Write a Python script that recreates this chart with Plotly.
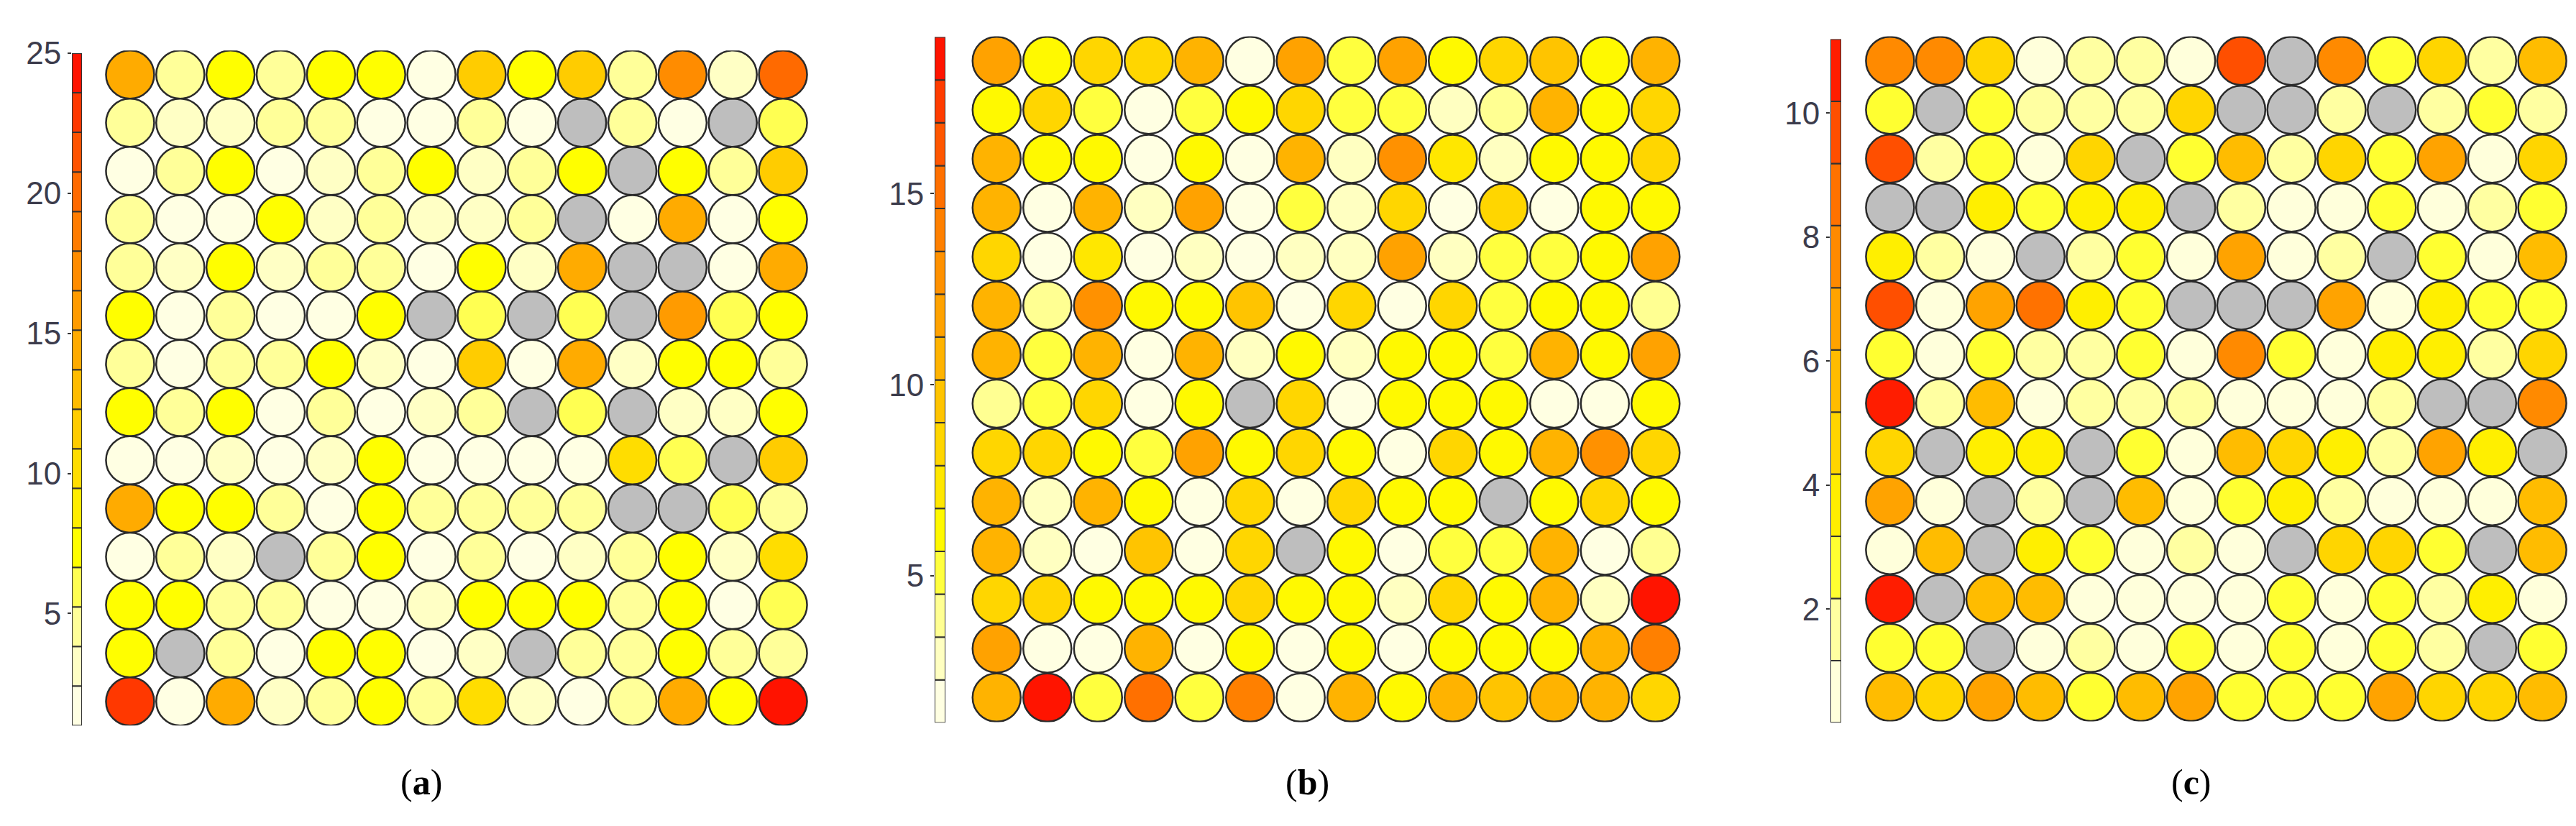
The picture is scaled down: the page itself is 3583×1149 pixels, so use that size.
import plotly.graph_objects as go
from plotly.colors import sample_colorscale

W, H = 3583, 1149

# hits per SOM node (0 = empty node, drawn grey)
hits_a = [
    [15, 4, 7, 4, 7, 7, 2, 12, 7, 12, 5, 17, 3, 20],
    [5, 3, 3, 4, 5, 2, 2, 5, 2, 0, 5, 2, 0, 6],
    [2, 5, 7, 2, 3, 5, 8, 3, 4, 8, 0, 7, 5, 11],
    [5, 2, 2, 8, 3, 5, 3, 3, 5, 0, 2, 14, 2, 7],
    [5, 3, 7, 3, 5, 4, 2, 8, 3, 14, 0, 0, 2, 14],
    [7, 2, 5, 2, 2, 8, 0, 6, 0, 6, 0, 16, 6, 7],
    [5, 2, 5, 4, 7, 3, 2, 11, 2, 14, 3, 7, 7, 5],
    [7, 5, 7, 2, 5, 2, 3, 5, 0, 6, 0, 3, 3, 7],
    [2, 2, 3, 2, 3, 7, 2, 2, 2, 2, 10, 6, 0, 11],
    [14, 7, 7, 4, 2, 8, 4, 4, 4, 4, 0, 0, 6, 4],
    [2, 4, 3, 0, 5, 7, 2, 5, 2, 3, 5, 7, 3, 10],
    [7, 8, 5, 4, 2, 2, 3, 8, 8, 8, 5, 7, 2, 6],
    [7, 0, 5, 2, 7, 7, 2, 3, 0, 5, 5, 7, 5, 4],
    [23, 2, 14, 3, 5, 8, 4, 10, 3, 2, 5, 14, 7, 25],
]

hits_b = [
    [12, 6, 8, 8, 11, 2, 12, 5, 12, 6, 9, 10, 6, 11],
    [6, 8, 5, 2, 5, 6, 8, 5, 5, 3, 4, 11, 6, 8],
    [11, 6, 6, 2, 6, 2, 11, 3, 13, 7, 3, 6, 6, 8],
    [11, 2, 11, 3, 12, 2, 5, 3, 8, 2, 8, 2, 6, 6],
    [8, 2, 7, 2, 3, 2, 3, 3, 12, 3, 5, 5, 6, 12],
    [11, 4, 13, 6, 6, 10, 2, 8, 2, 8, 5, 6, 6, 4],
    [11, 5, 11, 2, 11, 3, 6, 3, 6, 6, 5, 11, 6, 12],
    [4, 5, 8, 2, 6, 0, 9, 2, 6, 6, 6, 2, 2, 6],
    [8, 9, 6, 5, 12, 6, 9, 6, 2, 8, 6, 11, 13, 9],
    [11, 3, 11, 6, 2, 8, 2, 8, 6, 6, 0, 6, 8, 6],
    [11, 3, 2, 10, 2, 8, 0, 6, 2, 5, 5, 11, 2, 4],
    [9, 8, 6, 6, 6, 8, 6, 6, 3, 9, 6, 11, 3, 19],
    [12, 2, 2, 11, 2, 6, 2, 6, 2, 6, 6, 6, 11, 14],
    [11, 19, 5, 15, 5, 14, 2, 11, 6, 11, 10, 11, 11, 9],
]

hits_c = [
    [8, 8, 5, 1, 2, 2, 1, 10, 0, 8, 3, 5, 2, 6],
    [3, 0, 3, 2, 2, 2, 5, 0, 0, 2, 0, 2, 3, 2],
    [10, 2, 3, 1, 5, 0, 3, 6, 2, 5, 3, 7, 1, 5],
    [0, 0, 4, 3, 4, 4, 0, 2, 1, 1, 3, 1, 2, 3],
    [4, 2, 1, 0, 2, 3, 1, 7, 1, 2, 0, 3, 1, 6],
    [10, 1, 7, 9, 4, 3, 0, 0, 0, 7, 1, 4, 3, 3],
    [3, 1, 3, 2, 2, 3, 1, 8, 3, 1, 4, 4, 2, 5],
    [11, 2, 6, 1, 2, 2, 2, 1, 1, 1, 2, 0, 0, 8],
    [5, 0, 4, 4, 0, 3, 1, 6, 5, 4, 2, 7, 4, 0],
    [7, 1, 0, 2, 0, 6, 1, 3, 4, 2, 1, 1, 1, 6],
    [1, 6, 0, 4, 3, 1, 2, 1, 0, 5, 5, 3, 0, 6],
    [11, 0, 6, 6, 1, 1, 1, 1, 3, 1, 3, 2, 4, 1],
    [3, 3, 0, 1, 2, 1, 3, 1, 3, 1, 3, 2, 0, 3],
    [6, 5, 7, 6, 3, 6, 7, 3, 3, 3, 7, 5, 5, 6],
]

panel_labels = ["a", "b", "c"]
cbar_min = [1, 1.15, 0.17]
cbar_max = [25, 19.1, 11.19]
cbar_steps = [17, 16, 11]
cbar_ticks = [[5, 10, 15, 20, 25], [5, 10, 15], [2, 4, 6, 8, 10]]

base = [[0, "rgb(255,255,242)"], [0.09, "rgb(255,255,196)"], [0.17, "rgb(255,255,136)"],
        [0.26, "rgb(255,255,0)"], [0.42, "rgb(255,210,0)"], [0.6, "rgb(255,160,0)"],
        [0.78, "rgb(255,112,0)"], [0.9, "rgb(255,64,0)"], [1, "rgb(255,0,0)"]]


def stepped(n):
    cols = sample_colorscale(base, [(i + 0.5) / n for i in range(n)])
    cs = []
    for i, c in enumerate(cols):
        cs += [[i / n, c], [(i + 1) / n, c]]
    return cs


# pixel boxes (left, right, top, bottom)
grid_box = [(138, 1116, 38, 998), (1343, 2330, 18, 993), (2586, 3563, 18, 992)]
cbar_box = [(92, 106, 42, 998), (1292, 1307, 19, 994), (2538, 2553, 22, 994)]
label_x = [578, 1810, 3040]

fig = go.Figure()
layout = dict(width=W, height=H, margin=dict(l=0, r=0, t=0, b=0),
              paper_bgcolor="white", plot_bgcolor="white", showlegend=False)

edge = dict(color="#2a2a2a", width=2.5)
for k, hits in enumerate([hits_a, hits_b, hits_c]):
    gx, gy, cx, cy, cv = [], [], [], [], []
    for r, row in enumerate(hits):
        for c, v in enumerate(row):
            if v == 0:
                gx.append(c + 1); gy.append(r + 1)
            else:
                cx.append(c + 1); cy.append(r + 1); cv.append(v)
    n = cbar_steps[k]
    cs = stepped(n)
    xa, ya = "x%d" % (k + 1), "y%d" % (k + 1)
    fig.add_trace(go.Scatter(x=gx, y=gy, mode="markers", xaxis=xa, yaxis=ya,
                             marker=dict(size=67, color="#BEBEBE", line=edge)))
    fig.add_trace(go.Scatter(x=cx, y=cy, mode="markers", xaxis=xa, yaxis=ya,
                             marker=dict(size=67, color=cv, colorscale=cs,
                                         cmin=cbar_min[k], cmax=cbar_max[k], line=edge)))
    # colour bar as stacked segments
    step = (cbar_max[k] - cbar_min[k]) / n
    bases = [cbar_min[k] + i * step for i in range(n)]
    mids = [b + step / 2 for b in bases]
    xb, yb = "x%d" % (k + 4), "y%d" % (k + 4)
    fig.add_trace(go.Bar(x=[0] * n, y=[step] * n, base=bases, width=1, xaxis=xb, yaxis=yb,
                         marker=dict(color=mids, colorscale=cs, cmin=cbar_min[k], cmax=cbar_max[k],
                                     line=dict(color="#333333", width=2))))

    l, rr, t, b = grid_box[k]
    layout["xaxis%d" % (k + 1)] = dict(domain=[l / W, rr / W], range=[0.5, 14.5], visible=False)
    layout["yaxis%d" % (k + 1)] = dict(domain=[1 - b / H, 1 - t / H], range=[14.5, 0.5], visible=False)
    l, rr, t, b = cbar_box[k]
    layout["xaxis%d" % (k + 4)] = dict(domain=[l / W, rr / W], range=[-0.5, 0.5], visible=False)
    layout["yaxis%d" % (k + 4)] = dict(domain=[1 - b / H, 1 - t / H], range=[cbar_min[k], cbar_max[k]],
                                       tickvals=cbar_ticks[k], ticks="outside", ticklen=5, tickwidth=2,
                                       tickcolor="#333333", showgrid=False, zeroline=False, showline=False,
                                       side="left", anchor="x%d" % (k + 4),
                                       tickfont=dict(family="Liberation Sans, Arial", size=44, color="#3c3c4c"))

annotations = []
for k, lab in enumerate(panel_labels):
    annotations.append(dict(text="(<b>%s</b>)" % lab, x=label_x[k] / W, y=1 - 1078 / H,
                            xref="paper", yref="paper", showarrow=False, xanchor="center", yanchor="middle",
                            font=dict(family="Liberation Serif, Times New Roman", size=50, color="black")))
layout["annotations"] = annotations
layout["barmode"] = "overlay"
fig.update_layout(**layout)

fig.write_html("out.html")
